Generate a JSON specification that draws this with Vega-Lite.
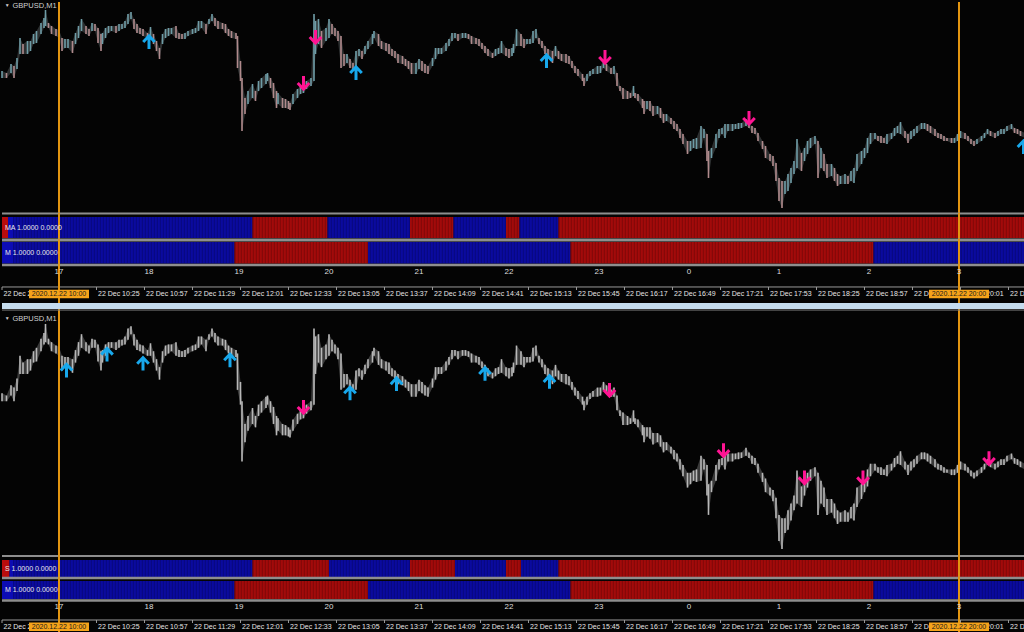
{
"$schema": "https://vega.github.io/schema/vega-lite/v6.json",
"background": "#040404",
"padding": 0,
"spacing": 0,
"bounds": "flush",
"config": {"view": {"stroke": null}, "text": {"font": "Liberation Sans"}},
"datasets": {
"price": [
{"min":-38,"hi":1.3430,"lo":1.3423},{"min":-35,"hi":1.3428,"lo":1.3423},{"min":-32,"hi":1.3437,"lo":1.3428},{"min":-30,"hi":1.3435,"lo":1.3423},{"min":-28,"hi":1.3443,"lo":1.3432},{"min":-26,"hi":1.3463,"lo":1.3447},{"min":-24,"hi":1.3457,"lo":1.3447},{"min":-21,"hi":1.3460,"lo":1.3447},{"min":-19,"hi":1.3460,"lo":1.3450},{"min":-17,"hi":1.3467,"lo":1.3457},{"min":-15,"hi":1.3470,"lo":1.3458},{"min":-12,"hi":1.3478,"lo":1.3467},{"min":-10,"hi":1.3483,"lo":1.3473},{"min":-9,"hi":1.3491,"lo":1.3475},{"min":-7,"hi":1.3478,"lo":1.3473},{"min":-5,"hi":1.3475,"lo":1.3467},{"min":-2,"hi":1.3472,"lo":1.3465},{"min":0,"hi":1.3471,"lo":1.3463},{"min":2,"hi":1.3463,"lo":1.3450},{"min":4,"hi":1.3462,"lo":1.3453},{"min":6,"hi":1.3462,"lo":1.3453},{"min":9,"hi":1.3460,"lo":1.3448},{"min":11,"hi":1.3468,"lo":1.3457},{"min":13,"hi":1.3475,"lo":1.3463},{"min":15,"hi":1.3482,"lo":1.3470},{"min":18,"hi":1.3475,"lo":1.3467},{"min":20,"hi":1.3472,"lo":1.3465},{"min":22,"hi":1.3478,"lo":1.3470},{"min":24,"hi":1.3477,"lo":1.3470},{"min":26,"hi":1.3473,"lo":1.3458},{"min":28,"hi":1.3467,"lo":1.3450},{"min":29,"hi":1.3468,"lo":1.3457},{"min":31,"hi":1.3473,"lo":1.3463},{"min":33,"hi":1.3475,"lo":1.3468},{"min":35,"hi":1.3475,"lo":1.3470},{"min":38,"hi":1.3475,"lo":1.3468},{"min":40,"hi":1.3477,"lo":1.3470},{"min":42,"hi":1.3477,"lo":1.3472},{"min":44,"hi":1.3480,"lo":1.3473},{"min":46,"hi":1.3487,"lo":1.3477},{"min":48,"hi":1.3489,"lo":1.3482},{"min":50,"hi":1.3482,"lo":1.3472},{"min":52,"hi":1.3477,"lo":1.3468},{"min":54,"hi":1.3473,"lo":1.3467},{"min":56,"hi":1.3472,"lo":1.3465},{"min":59,"hi":1.3468,"lo":1.3463},{"min":61,"hi":1.3474,"lo":1.3463},{"min":63,"hi":1.3467,"lo":1.3457},{"min":65,"hi":1.3460,"lo":1.3450},{"min":67,"hi":1.3453,"lo":1.3442},{"min":69,"hi":1.3467,"lo":1.3457},{"min":71,"hi":1.3472,"lo":1.3463},{"min":73,"hi":1.3473,"lo":1.3465},{"min":75,"hi":1.3473,"lo":1.3467},{"min":78,"hi":1.3475,"lo":1.3463},{"min":80,"hi":1.3468,"lo":1.3462},{"min":82,"hi":1.3467,"lo":1.3462},{"min":84,"hi":1.3468,"lo":1.3462},{"min":86,"hi":1.3470,"lo":1.3465},{"min":89,"hi":1.3472,"lo":1.3467},{"min":91,"hi":1.3473,"lo":1.3468},{"min":93,"hi":1.3480,"lo":1.3470},{"min":95,"hi":1.3480,"lo":1.3473},{"min":98,"hi":1.3477,"lo":1.3467},{"min":100,"hi":1.3482,"lo":1.3477},{"min":102,"hi":1.3487,"lo":1.3480},{"min":104,"hi":1.3483,"lo":1.3475},{"min":106,"hi":1.3480,"lo":1.3472},{"min":109,"hi":1.3478,"lo":1.3472},{"min":111,"hi":1.3477,"lo":1.3468},{"min":113,"hi":1.3472,"lo":1.3465},{"min":115,"hi":1.3470,"lo":1.3463},{"min":118,"hi":1.3468,"lo":1.3462},{"min":119,"hi":1.3465,"lo":1.3433},{"min":121,"hi":1.3440,"lo":1.3420},{"min":122,"hi":1.3423,"lo":1.3370},{"min":124,"hi":1.3403,"lo":1.3387},{"min":126,"hi":1.3410,"lo":1.3397},{"min":129,"hi":1.3417,"lo":1.3403},{"min":131,"hi":1.3410,"lo":1.3400},{"min":133,"hi":1.3420,"lo":1.3410},{"min":135,"hi":1.3423,"lo":1.3413},{"min":138,"hi":1.3427,"lo":1.3417},{"min":139,"hi":1.3428,"lo":1.3420},{"min":141,"hi":1.3423,"lo":1.3413},{"min":143,"hi":1.3418,"lo":1.3403},{"min":145,"hi":1.3410,"lo":1.3393},{"min":146,"hi":1.3408,"lo":1.3397},{"min":149,"hi":1.3403,"lo":1.3393},{"min":151,"hi":1.3402,"lo":1.3393},{"min":153,"hi":1.3400,"lo":1.3392},{"min":154,"hi":1.3398,"lo":1.3391},{"min":156,"hi":1.3407,"lo":1.3397},{"min":159,"hi":1.3412,"lo":1.3403},{"min":161,"hi":1.3415,"lo":1.3407},{"min":163,"hi":1.3418,"lo":1.3408},{"min":165,"hi":1.3420,"lo":1.3412},{"min":168,"hi":1.3423,"lo":1.3415},{"min":170,"hi":1.3487,"lo":1.3420},{"min":171,"hi":1.3480,"lo":1.3447},{"min":173,"hi":1.3482,"lo":1.3457},{"min":175,"hi":1.3470,"lo":1.3453},{"min":178,"hi":1.3473,"lo":1.3460},{"min":180,"hi":1.3482,"lo":1.3463},{"min":182,"hi":1.3477,"lo":1.3467},{"min":184,"hi":1.3473,"lo":1.3465},{"min":186,"hi":1.3470,"lo":1.3460},{"min":188,"hi":1.3465,"lo":1.3433},{"min":190,"hi":1.3447,"lo":1.3435},{"min":192,"hi":1.3447,"lo":1.3438},{"min":194,"hi":1.3442,"lo":1.3433},{"min":196,"hi":1.3438,"lo":1.3432},{"min":198,"hi":1.3450,"lo":1.3433},{"min":200,"hi":1.3452,"lo":1.3445},{"min":202,"hi":1.3450,"lo":1.3442},{"min":204,"hi":1.3455,"lo":1.3447},{"min":206,"hi":1.3460,"lo":1.3452},{"min":209,"hi":1.3467,"lo":1.3457},{"min":210,"hi":1.3470,"lo":1.3463},{"min":213,"hi":1.3467,"lo":1.3455},{"min":215,"hi":1.3460,"lo":1.3452},{"min":218,"hi":1.3458,"lo":1.3450},{"min":220,"hi":1.3457,"lo":1.3447},{"min":222,"hi":1.3452,"lo":1.3445},{"min":224,"hi":1.3450,"lo":1.3443},{"min":226,"hi":1.3447,"lo":1.3438},{"min":229,"hi":1.3445,"lo":1.3437},{"min":231,"hi":1.3442,"lo":1.3435},{"min":233,"hi":1.3440,"lo":1.3432},{"min":235,"hi":1.3438,"lo":1.3427},{"min":238,"hi":1.3438,"lo":1.3427},{"min":240,"hi":1.3442,"lo":1.3432},{"min":242,"hi":1.3440,"lo":1.3430},{"min":244,"hi":1.3437,"lo":1.3428},{"min":246,"hi":1.3435,"lo":1.3427},{"min":249,"hi":1.3443,"lo":1.3435},{"min":251,"hi":1.3453,"lo":1.3442},{"min":253,"hi":1.3453,"lo":1.3447},{"min":255,"hi":1.3453,"lo":1.3447},{"min":258,"hi":1.3458,"lo":1.3450},{"min":260,"hi":1.3462,"lo":1.3455},{"min":262,"hi":1.3468,"lo":1.3460},{"min":264,"hi":1.3468,"lo":1.3463},{"min":266,"hi":1.3467,"lo":1.3460},{"min":269,"hi":1.3468,"lo":1.3463},{"min":271,"hi":1.3468,"lo":1.3463},{"min":273,"hi":1.3467,"lo":1.3462},{"min":275,"hi":1.3465,"lo":1.3457},{"min":278,"hi":1.3463,"lo":1.3457},{"min":280,"hi":1.3462,"lo":1.3455},{"min":282,"hi":1.3458,"lo":1.3452},{"min":284,"hi":1.3455,"lo":1.3448},{"min":286,"hi":1.3452,"lo":1.3445},{"min":289,"hi":1.3448,"lo":1.3443},{"min":291,"hi":1.3452,"lo":1.3445},{"min":293,"hi":1.3453,"lo":1.3447},{"min":295,"hi":1.3460,"lo":1.3448},{"min":298,"hi":1.3453,"lo":1.3445},{"min":300,"hi":1.3452,"lo":1.3443},{"min":302,"hi":1.3453,"lo":1.3445},{"min":303,"hi":1.3457,"lo":1.3448},{"min":305,"hi":1.3472,"lo":1.3455},{"min":308,"hi":1.3467,"lo":1.3455},{"min":310,"hi":1.3462,"lo":1.3453},{"min":312,"hi":1.3462,"lo":1.3457},{"min":314,"hi":1.3462,"lo":1.3457},{"min":316,"hi":1.3470,"lo":1.3458},{"min":318,"hi":1.3472,"lo":1.3463},{"min":320,"hi":1.3463,"lo":1.3457},{"min":322,"hi":1.3460,"lo":1.3453},{"min":324,"hi":1.3455,"lo":1.3447},{"min":326,"hi":1.3452,"lo":1.3443},{"min":329,"hi":1.3450,"lo":1.3438},{"min":331,"hi":1.3455,"lo":1.3445},{"min":333,"hi":1.3450,"lo":1.3442},{"min":335,"hi":1.3447,"lo":1.3440},{"min":338,"hi":1.3447,"lo":1.3438},{"min":340,"hi":1.3445,"lo":1.3437},{"min":342,"hi":1.3440,"lo":1.3433},{"min":344,"hi":1.3435,"lo":1.3428},{"min":346,"hi":1.3432,"lo":1.3425},{"min":349,"hi":1.3427,"lo":1.3420},{"min":350,"hi":1.3423,"lo":1.3415},{"min":352,"hi":1.3427,"lo":1.3420},{"min":354,"hi":1.3430,"lo":1.3425},{"min":356,"hi":1.3432,"lo":1.3427},{"min":359,"hi":1.3435,"lo":1.3427},{"min":361,"hi":1.3435,"lo":1.3428},{"min":363,"hi":1.3440,"lo":1.3433},{"min":365,"hi":1.3437,"lo":1.3430},{"min":368,"hi":1.3433,"lo":1.3427},{"min":370,"hi":1.3435,"lo":1.3427},{"min":372,"hi":1.3428,"lo":1.3415},{"min":374,"hi":1.3415,"lo":1.3410},{"min":376,"hi":1.3413,"lo":1.3402},{"min":379,"hi":1.3410,"lo":1.3402},{"min":381,"hi":1.3408,"lo":1.3403},{"min":383,"hi":1.3415,"lo":1.3405},{"min":384,"hi":1.3408,"lo":1.3403},{"min":386,"hi":1.3407,"lo":1.3400},{"min":389,"hi":1.3402,"lo":1.3393},{"min":390,"hi":1.3400,"lo":1.3387},{"min":392,"hi":1.3400,"lo":1.3392},{"min":394,"hi":1.3400,"lo":1.3390},{"min":396,"hi":1.3395,"lo":1.3385},{"min":399,"hi":1.3395,"lo":1.3387},{"min":401,"hi":1.3393,"lo":1.3383},{"min":403,"hi":1.3387,"lo":1.3378},{"min":405,"hi":1.3387,"lo":1.3380},{"min":408,"hi":1.3383,"lo":1.3377},{"min":410,"hi":1.3380,"lo":1.3372},{"min":412,"hi":1.3377,"lo":1.3370},{"min":414,"hi":1.3372,"lo":1.3363},{"min":416,"hi":1.3367,"lo":1.3357},{"min":419,"hi":1.3360,"lo":1.3347},{"min":421,"hi":1.3360,"lo":1.3350},{"min":423,"hi":1.3362,"lo":1.3353},{"min":425,"hi":1.3363,"lo":1.3352},{"min":428,"hi":1.3375,"lo":1.3353},{"min":430,"hi":1.3372,"lo":1.3363},{"min":432,"hi":1.3367,"lo":1.3340},{"min":433,"hi":1.3350,"lo":1.3323},{"min":435,"hi":1.3353,"lo":1.3343},{"min":438,"hi":1.3367,"lo":1.3353},{"min":440,"hi":1.3372,"lo":1.3363},{"min":442,"hi":1.3373,"lo":1.3367},{"min":444,"hi":1.3377,"lo":1.3363},{"min":446,"hi":1.3377,"lo":1.3370},{"min":449,"hi":1.3377,"lo":1.3370},{"min":451,"hi":1.3377,"lo":1.3372},{"min":453,"hi":1.3378,"lo":1.3372},{"min":455,"hi":1.3378,"lo":1.3373},{"min":458,"hi":1.3382,"lo":1.3375},{"min":460,"hi":1.3378,"lo":1.3373},{"min":462,"hi":1.3375,"lo":1.3368},{"min":464,"hi":1.3373,"lo":1.3367},{"min":466,"hi":1.3368,"lo":1.3360},{"min":469,"hi":1.3360,"lo":1.3352},{"min":471,"hi":1.3355,"lo":1.3343},{"min":474,"hi":1.3347,"lo":1.3340},{"min":476,"hi":1.3345,"lo":1.3335},{"min":478,"hi":1.3338,"lo":1.3320},{"min":480,"hi":1.3323,"lo":1.3300},{"min":482,"hi":1.3320,"lo":1.3293},{"min":484,"hi":1.3320,"lo":1.3307},{"min":486,"hi":1.3327,"lo":1.3310},{"min":488,"hi":1.3333,"lo":1.3318},{"min":490,"hi":1.3340,"lo":1.3327},{"min":492,"hi":1.3362,"lo":1.3333},{"min":495,"hi":1.3348,"lo":1.3330},{"min":497,"hi":1.3353,"lo":1.3340},{"min":499,"hi":1.3360,"lo":1.3347},{"min":501,"hi":1.3363,"lo":1.3353},{"min":504,"hi":1.3365,"lo":1.3357},{"min":506,"hi":1.3360,"lo":1.3323},{"min":508,"hi":1.3353,"lo":1.3333},{"min":510,"hi":1.3347,"lo":1.3330},{"min":512,"hi":1.3337,"lo":1.3323},{"min":515,"hi":1.3337,"lo":1.3325},{"min":517,"hi":1.3333,"lo":1.3320},{"min":519,"hi":1.3327,"lo":1.3315},{"min":521,"hi":1.3325,"lo":1.3317},{"min":524,"hi":1.3327,"lo":1.3317},{"min":526,"hi":1.3325,"lo":1.3317},{"min":528,"hi":1.3330,"lo":1.3320},{"min":530,"hi":1.3333,"lo":1.3318},{"min":532,"hi":1.3347,"lo":1.3330},{"min":535,"hi":1.3350,"lo":1.3337},{"min":537,"hi":1.3353,"lo":1.3343},{"min":539,"hi":1.3363,"lo":1.3348},{"min":541,"hi":1.3368,"lo":1.3357},{"min":544,"hi":1.3368,"lo":1.3362},{"min":546,"hi":1.3365,"lo":1.3360},{"min":548,"hi":1.3365,"lo":1.3358},{"min":550,"hi":1.3363,"lo":1.3358},{"min":552,"hi":1.3367,"lo":1.3357},{"min":555,"hi":1.3368,"lo":1.3362},{"min":557,"hi":1.3373,"lo":1.3365},{"min":559,"hi":1.3375,"lo":1.3368},{"min":561,"hi":1.3379,"lo":1.3367},{"min":564,"hi":1.3370,"lo":1.3363},{"min":566,"hi":1.3367,"lo":1.3358},{"min":568,"hi":1.3370,"lo":1.3362},{"min":570,"hi":1.3372,"lo":1.3365},{"min":572,"hi":1.3375,"lo":1.3368},{"min":575,"hi":1.3378,"lo":1.3372},{"min":577,"hi":1.3378,"lo":1.3372},{"min":579,"hi":1.3377,"lo":1.3370},{"min":581,"hi":1.3375,"lo":1.3368},{"min":584,"hi":1.3372,"lo":1.3365},{"min":586,"hi":1.3368,"lo":1.3363},{"min":588,"hi":1.3367,"lo":1.3362},{"min":590,"hi":1.3365,"lo":1.3360},{"min":592,"hi":1.3363,"lo":1.3360},{"min":595,"hi":1.3363,"lo":1.3358},{"min":597,"hi":1.3363,"lo":1.3358},{"min":599,"hi":1.3367,"lo":1.3360},{"min":601,"hi":1.3370,"lo":1.3363},{"min":604,"hi":1.3368,"lo":1.3362},{"min":606,"hi":1.3365,"lo":1.3360},{"min":608,"hi":1.3362,"lo":1.3357},{"min":610,"hi":1.3360,"lo":1.3355},{"min":612,"hi":1.3362,"lo":1.3357},{"min":615,"hi":1.3365,"lo":1.3360},{"min":617,"hi":1.3368,"lo":1.3363},{"min":619,"hi":1.3372,"lo":1.3367},{"min":621,"hi":1.3370,"lo":1.3365},{"min":624,"hi":1.3368,"lo":1.3363},{"min":626,"hi":1.3370,"lo":1.3365},{"min":628,"hi":1.3372,"lo":1.3367},{"min":630,"hi":1.3372,"lo":1.3367},{"min":632,"hi":1.3375,"lo":1.3370},{"min":635,"hi":1.3377,"lo":1.3372},{"min":637,"hi":1.3373,"lo":1.3368},{"min":639,"hi":1.3372,"lo":1.3367},{"min":641,"hi":1.3370,"lo":1.3365},{"min":644,"hi":1.3368,"lo":1.3363}
],
"arrTop": [
{"min":60,"price":1.3459,"dir":"up"},{"min":171,"price":1.3464,"dir":"down"},{"min":163,"price":1.3418,"dir":"down"},{"min":198,"price":1.3428,"dir":"up"},{"min":325,"price":1.3440,"dir":"up"},{"min":364,"price":1.3444,"dir":"down"},{"min":460,"price":1.3383,"dir":"down"},{"min":643,"price":1.3354,"dir":"up"}
],
"arrBot": [
{"min":5,"price":1.3450,"dir":"up"},{"min":32,"price":1.3464,"dir":"up"},{"min":56,"price":1.3456,"dir":"up"},{"min":114,"price":1.3459,"dir":"up"},{"min":163,"price":1.3418,"dir":"down"},{"min":194,"price":1.3430,"dir":"up"},{"min":225,"price":1.3438,"dir":"up"},{"min":284,"price":1.3447,"dir":"up"},{"min":327,"price":1.3440,"dir":"up"},{"min":367,"price":1.3433,"dir":"down"},{"min":443,"price":1.3380,"dir":"down"},{"min":497,"price":1.3356,"dir":"down"},{"min":536,"price":1.3356,"dir":"down"},{"min":620,"price":1.3373,"dir":"down"}
],
"stripMA": [
{"from":-38,"to":-34,"state":"down"},{"from":-34,"to":129,"state":"up"},{"from":129,"to":179,"state":"down"},{"from":179,"to":234,"state":"up"},{"from":234,"to":263,"state":"down"},{"from":263,"to":298,"state":"up"},{"from":298,"to":307,"state":"down"},{"from":307,"to":333,"state":"up"},{"from":333,"to":645,"state":"down"}
],
"stripS": [
{"from":-38,"to":-33,"state":"down"},{"from":-33,"to":129,"state":"up"},{"from":129,"to":180,"state":"down"},{"from":180,"to":234,"state":"up"},{"from":234,"to":264,"state":"down"},{"from":264,"to":298,"state":"up"},{"from":298,"to":308,"state":"down"},{"from":308,"to":333,"state":"up"},{"from":333,"to":645,"state":"down"}
],
"stripM": [
{"from":-38,"to":117,"state":"up"},{"from":117,"to":206,"state":"down"},{"from":206,"to":341,"state":"up"},{"from":341,"to":543,"state":"down"},{"from":543,"to":645,"state":"up"}
],
"vlines": [{"min":0},{"min":600}],
"hours": [
{"min":0,"h":"17"},{"min":60,"h":"18"},{"min":120,"h":"19"},{"min":180,"h":"20"},{"min":240,"h":"21"},{"min":300,"h":"22"},{"min":360,"h":"23"},{"min":420,"h":"0"},{"min":480,"h":"1"},{"min":540,"h":"2"},{"min":600,"h":"3"}
],
"times": [
{"min":-38,"t":"22 Dec 2020"},{"min":25,"t":"22 Dec 10:25"},{"min":57,"t":"22 Dec 10:57"},{"min":89,"t":"22 Dec 11:29"},{"min":121,"t":"22 Dec 12:01"},{"min":153,"t":"22 Dec 12:33"},{"min":185,"t":"22 Dec 13:05"},{"min":217,"t":"22 Dec 13:37"},{"min":249,"t":"22 Dec 14:09"},{"min":281,"t":"22 Dec 14:41"},{"min":313,"t":"22 Dec 15:13"},{"min":345,"t":"22 Dec 15:45"},{"min":377,"t":"22 Dec 16:17"},{"min":409,"t":"22 Dec 16:49"},{"min":441,"t":"22 Dec 17:21"},{"min":473,"t":"22 Dec 17:53"},{"min":505,"t":"22 Dec 18:25"},{"min":537,"t":"22 Dec 18:57"},{"min":569,"t":"22 Dec 19:29"},{"min":601,"t":"22 Dec 20:01"},{"min":633,"t":"22 Dec 20:33"}
],
"olabels": [{"min":0,"t":"2020.12.22 10:00"},{"min":600,"t":"2020.12.22 20:00"}]
},
"vconcat": [
{
"width": 1024, "height": 212,
"layer": [
{"data": {"name": "price"},
 "mark": {"type": "area", "opacity": 0.3, "color": "#8c9598"},
 "encoding": {
  "x": {"field": "min", "type": "quantitative", "scale": {"domain": [-38, 644.67], "nice": false, "zero": false}, "axis": null},
  "y": {"field": "hi", "type": "quantitative", "scale": {"domain": [1.3288, 1.35], "nice": false, "zero": false}, "axis": null},
  "y2": {"field": "lo"}
 }},
{"data": {"name": "price"},
 "transform": [{"window": [{"op": "lag", "field": "hi", "as": "phi"}, {"op": "lag", "field": "lo", "as": "plo"}], "sort": [{"field": "min"}]}],
 "mark": {"type": "rule", "strokeWidth": 1.6},
 "encoding": {
  "x": {"field": "min", "type": "quantitative"},
  "y": {"field": "hi", "type": "quantitative"},
  "y2": {"field": "lo"},
  "color": {"condition": {"test": "datum.hi + datum.lo >= datum.phi + datum.plo", "value": "#6e9ca6"}, "value": "#b08a8c"}
 }},
{"data": {"name": "vlines"}, "mark": {"type": "rule", "color": "#e39510", "strokeWidth": 2},
 "encoding": {"x": {"field": "min", "type": "quantitative"}, "y": {"datum": 1.3499, "type": "quantitative"}, "y2": {"datum": 1.3288}}},
{"data": {"name": "arrTop"}, "mark": {"type": "point", "filled": false, "strokeWidth": 3, "size": 210, "opacity": 1},
 "encoding": {
  "x": {"field": "min", "type": "quantitative"},
  "y": {"field": "price", "type": "quantitative"},
  "color": {"condition": {"test": "datum.dir === 'up'", "value": "#18a8ec"}, "value": "#ff1493"},
  "shape": {"condition": {"test": "datum.dir === 'up'", "value": "M-0.8,0L0,-0.85L0.8,0M0,-0.85L0,0.95"}, "value": "M-0.8,0L0,0.85L0.8,0M0,0.85L0,-0.95"}
 }},
{"data": {"values": [{}]}, "mark": {"type": "text", "text": "▼", "fontSize": 5, "color": "#d0d0d0", "align": "center", "baseline": "middle"},
 "encoding": {"x": {"datum": -34.5, "type": "quantitative"}, "y": {"datum": 1.3496, "type": "quantitative"}}},
{"data": {"values": [{}]}, "mark": {"type": "text", "text": "GBPUSD,M1", "fontSize": 7.5, "color": "#d0d0d0", "align": "left", "baseline": "middle"},
 "encoding": {"x": {"datum": -31, "type": "quantitative"}, "y": {"datum": 1.3495, "type": "quantitative"}}}
]
},
{
"width": 1024, "height": 26,
"layer": [
{"data": {"values": [{}]}, "mark": {"type": "rule", "color": "#8e8e8e", "strokeWidth": 2},
 "encoding": {"y": {"datum": 0.98, "type": "quantitative", "scale": {"domain": [0, 1], "nice": false, "zero": false}, "axis": null}}},
{"data": {"name": "stripMA"}, "mark": {"type": "rect"},
 "encoding": {
  "x": {"field": "from", "type": "quantitative", "scale": {"domain": [-38, 644.67], "nice": false, "zero": false}, "axis": null},
  "x2": {"field": "to"},
  "y": {"datum": 0.038, "type": "quantitative"}, "y2": {"datum": 0.846},
  "color": {"condition": {"test": "datum.state === 'up'", "value": "#0c0cb4"}, "value": "#b80c0c"}
 }},
{"data": {"values": [{}]}, "mark": {"type": "rule", "color": "#000000", "strokeWidth": 21, "strokeDash": [0.6, 0.9], "opacity": 0.45},
 "encoding": {"x": {"datum": -30.5, "type": "quantitative"}, "x2": {"datum": 644.67}, "y": {"datum": 0.442, "type": "quantitative"}}},
{"data": {"name": "vlines"}, "mark": {"type": "rule", "color": "#e39510", "strokeWidth": 2},
 "encoding": {"x": {"field": "min", "type": "quantitative"}}},
{"data": {"values": [{}]}, "mark": {"type": "text", "text": "MA 1.0000 0.0000", "fontSize": 7, "color": "#e8e8e8", "align": "left", "baseline": "middle"},
 "encoding": {"x": {"datum": -36, "type": "quantitative"}, "y": {"datum": 0.442, "type": "quantitative"}}}
]
},
{
"width": 1024, "height": 25,
"layer": [
{"data": {"values": [{}]}, "mark": {"type": "rule", "color": "#8e8e8e", "strokeWidth": 3},
 "encoding": {"y": {"datum": 0.96, "type": "quantitative", "scale": {"domain": [0, 1], "nice": false, "zero": false}, "axis": null}}},
{"data": {"name": "stripM"}, "mark": {"type": "rect"},
 "encoding": {
  "x": {"field": "from", "type": "quantitative", "scale": {"domain": [-38, 644.67], "nice": false, "zero": false}, "axis": null},
  "x2": {"field": "to"},
  "y": {"datum": 0.02, "type": "quantitative"}, "y2": {"datum": 0.88},
  "color": {"condition": {"test": "datum.state === 'up'", "value": "#0c0cb4"}, "value": "#b80c0c"}
 }},
{"data": {"values": [{}]}, "mark": {"type": "rule", "color": "#000000", "strokeWidth": 21.5, "strokeDash": [0.6, 0.9], "opacity": 0.45},
 "encoding": {"x": {"datum": -30.5, "type": "quantitative"}, "x2": {"datum": 644.67}, "y": {"datum": 0.45, "type": "quantitative"}}},
{"data": {"name": "vlines"}, "mark": {"type": "rule", "color": "#e39510", "strokeWidth": 2},
 "encoding": {"x": {"field": "min", "type": "quantitative"}}},
{"data": {"values": [{}]}, "mark": {"type": "text", "text": "M 1.0000 0.0000", "fontSize": 7, "color": "#e8e8e8", "align": "left", "baseline": "middle"},
 "encoding": {"x": {"datum": -36, "type": "quantitative"}, "y": {"datum": 0.45, "type": "quantitative"}}}
]
},
{
"width": 1024, "height": 47,
"layer": [
{"data": {"values": [{}]}, "mark": {"type": "rule", "color": "#8e8e8e", "strokeWidth": 2.5},
 "encoding": {"y": {"datum": 0.98, "type": "quantitative", "scale": {"domain": [0, 1], "nice": false, "zero": false}, "axis": null}}},
{"data": {"values": [{}]}, "mark": {"type": "rule", "color": "#9a9a9a", "strokeWidth": 1},
 "encoding": {"y": {"datum": 0.511, "type": "quantitative"}}},
{"data": {"name": "vlines"}, "mark": {"type": "rule", "color": "#e39510", "strokeWidth": 2},
 "encoding": {"x": {"field": "min", "type": "quantitative", "scale": {"domain": [-38, 644.67], "nice": false, "zero": false}, "axis": null}}},
{"data": {"name": "hours"}, "mark": {"type": "text", "fontSize": 8, "color": "#dcdcdc", "align": "center", "baseline": "middle"},
 "encoding": {"x": {"field": "min", "type": "quantitative"}, "y": {"datum": 0.83, "type": "quantitative"}, "text": {"field": "h"}}},
{"data": {"name": "times"}, "mark": {"type": "rule", "color": "#9a9a9a", "strokeWidth": 1},
 "encoding": {"x": {"field": "min", "type": "quantitative"}, "y": {"datum": 0.511, "type": "quantitative"}, "y2": {"datum": 0.447}}},
{"data": {"name": "times"}, "mark": {"type": "text", "fontSize": 7, "color": "#e6e6e6", "align": "left", "baseline": "middle", "dx": 1.5},
 "encoding": {"x": {"field": "min", "type": "quantitative"}, "y": {"datum": 0.362, "type": "quantitative"}, "text": {"field": "t"}}},
{"data": {"name": "olabels"}, "mark": {"type": "point", "filled": true, "size": 3600, "opacity": 1, "color": "#f5a31a", "shape": "M-1,-0.14L1,-0.14L1,0.14L-1,0.14Z"},
 "encoding": {"x": {"field": "min", "type": "quantitative"}, "y": {"datum": 0.362, "type": "quantitative"}}},
{"data": {"name": "olabels"}, "mark": {"type": "text", "fontSize": 7, "color": "#1a1a1a", "align": "center", "baseline": "middle"},
 "encoding": {"x": {"field": "min", "type": "quantitative"}, "y": {"datum": 0.362, "type": "quantitative"}, "text": {"field": "t"}}},
{"data": {"values": [{}]}, "mark": {"type": "rect", "color": "#c5dcee"},
 "encoding": {"y": {"datum": 0.17, "type": "quantitative"}, "y2": {"datum": 0.043}}},
{"data": {"values": [{}]}, "mark": {"type": "rule", "color": "#7a7a7a", "strokeWidth": 1},
 "encoding": {"y": {"datum": 0.02, "type": "quantitative"}}}
]
},
{
"width": 1024, "height": 244,
"layer": [
{"data": {"name": "price"},
 "mark": {"type": "area", "opacity": 0.3, "color": "#b8b8b8"},
 "encoding": {
  "x": {"field": "min", "type": "quantitative", "scale": {"domain": [-38, 644.67], "nice": false, "zero": false}, "axis": null},
  "y": {"field": "hi", "type": "quantitative", "scale": {"domain": [1.32877, 1.35024], "nice": false, "zero": false}, "axis": null},
  "y2": {"field": "lo"}
 }},
{"data": {"name": "price"},
 "mark": {"type": "rule", "strokeWidth": 1.6, "color": "#b8b8b8"},
 "encoding": {
  "x": {"field": "min", "type": "quantitative"},
  "y": {"field": "hi", "type": "quantitative"},
  "y2": {"field": "lo"}
 }},
{"data": {"name": "vlines"}, "mark": {"type": "rule", "color": "#e39510", "strokeWidth": 2},
 "encoding": {"x": {"field": "min", "type": "quantitative"}}},
{"data": {"name": "arrBot"}, "mark": {"type": "point", "filled": false, "strokeWidth": 3, "size": 210, "opacity": 1},
 "encoding": {
  "x": {"field": "min", "type": "quantitative"},
  "y": {"field": "price", "type": "quantitative"},
  "color": {"condition": {"test": "datum.dir === 'up'", "value": "#18a8ec"}, "value": "#ff1493"},
  "shape": {"condition": {"test": "datum.dir === 'up'", "value": "M-0.8,0L0,-0.85L0.8,0M0,-0.85L0,0.95"}, "value": "M-0.8,0L0,0.85L0.8,0M0,0.85L0,-0.95"}
 }},
{"data": {"values": [{}]}, "mark": {"type": "text", "text": "▼", "fontSize": 5, "color": "#d0d0d0", "align": "center", "baseline": "middle"},
 "encoding": {"x": {"datum": -34.5, "type": "quantitative"}, "y": {"datum": 1.34965, "type": "quantitative"}}},
{"data": {"values": [{}]}, "mark": {"type": "text", "text": "GBPUSD,M1", "fontSize": 7.5, "color": "#d0d0d0", "align": "left", "baseline": "middle"},
 "encoding": {"x": {"datum": -31, "type": "quantitative"}, "y": {"datum": 1.34955, "type": "quantitative"}}}
]
},
{
"width": 1024, "height": 22,
"layer": [
{"data": {"values": [{}]}, "mark": {"type": "rule", "color": "#8e8e8e", "strokeWidth": 2},
 "encoding": {"y": {"datum": 0.955, "type": "quantitative", "scale": {"domain": [0, 1], "nice": false, "zero": false}, "axis": null}}},
{"data": {"name": "stripS"}, "mark": {"type": "rect"},
 "encoding": {
  "x": {"field": "from", "type": "quantitative", "scale": {"domain": [-38, 644.67], "nice": false, "zero": false}, "axis": null},
  "x2": {"field": "to"},
  "y": {"datum": 0.0, "type": "quantitative"}, "y2": {"datum": 0.773},
  "color": {"condition": {"test": "datum.state === 'up'", "value": "#0c0cb4"}, "value": "#b80c0c"}
 }},
{"data": {"values": [{}]}, "mark": {"type": "rule", "color": "#000000", "strokeWidth": 17, "strokeDash": [0.6, 0.9], "opacity": 0.45},
 "encoding": {"x": {"datum": -30.5, "type": "quantitative"}, "x2": {"datum": 644.67}, "y": {"datum": 0.386, "type": "quantitative"}}},
{"data": {"name": "vlines"}, "mark": {"type": "rule", "color": "#e39510", "strokeWidth": 2},
 "encoding": {"x": {"field": "min", "type": "quantitative"}}},
{"data": {"values": [{}]}, "mark": {"type": "text", "text": "S 1.0000 0.0000", "fontSize": 7, "color": "#e8e8e8", "align": "left", "baseline": "middle"},
 "encoding": {"x": {"datum": -36, "type": "quantitative"}, "y": {"datum": 0.386, "type": "quantitative"}}}
]
},
{
"width": 1024, "height": 22,
"layer": [
{"data": {"values": [{}]}, "mark": {"type": "rule", "color": "#8e8e8e", "strokeWidth": 2.5},
 "encoding": {"y": {"datum": 0.955, "type": "quantitative", "scale": {"domain": [0, 1], "nice": false, "zero": false}, "axis": null}}},
{"data": {"name": "stripM"}, "mark": {"type": "rect"},
 "encoding": {
  "x": {"field": "from", "type": "quantitative", "scale": {"domain": [-38, 644.67], "nice": false, "zero": false}, "axis": null},
  "x2": {"field": "to"},
  "y": {"datum": 0.0, "type": "quantitative"}, "y2": {"datum": 0.818},
  "color": {"condition": {"test": "datum.state === 'up'", "value": "#0c0cb4"}, "value": "#b80c0c"}
 }},
{"data": {"values": [{}]}, "mark": {"type": "rule", "color": "#000000", "strokeWidth": 18, "strokeDash": [0.6, 0.9], "opacity": 0.45},
 "encoding": {"x": {"datum": -30.5, "type": "quantitative"}, "x2": {"datum": 644.67}, "y": {"datum": 0.409, "type": "quantitative"}}},
{"data": {"name": "vlines"}, "mark": {"type": "rule", "color": "#e39510", "strokeWidth": 2},
 "encoding": {"x": {"field": "min", "type": "quantitative"}}},
{"data": {"values": [{}]}, "mark": {"type": "text", "text": "M 1.0000 0.0000", "fontSize": 7, "color": "#e8e8e8", "align": "left", "baseline": "middle"},
 "encoding": {"x": {"datum": -36, "type": "quantitative"}, "y": {"datum": 0.409, "type": "quantitative"}}}
]
},
{
"width": 1024, "height": 34,
"layer": [
{"data": {"values": [{}]}, "mark": {"type": "rule", "color": "#8e8e8e", "strokeWidth": 2.5},
 "encoding": {"y": {"datum": 0.956, "type": "quantitative", "scale": {"domain": [0, 1], "nice": false, "zero": false}, "axis": null}}},
{"data": {"values": [{}]}, "mark": {"type": "rule", "color": "#9a9a9a", "strokeWidth": 1},
 "encoding": {"y": {"datum": 0.382, "type": "quantitative"}}},
{"data": {"name": "vlines"}, "mark": {"type": "rule", "color": "#e39510", "strokeWidth": 2},
 "encoding": {"x": {"field": "min", "type": "quantitative", "scale": {"domain": [-38, 644.67], "nice": false, "zero": false}, "axis": null}}},
{"data": {"name": "hours"}, "mark": {"type": "text", "fontSize": 8, "color": "#dcdcdc", "align": "center", "baseline": "middle"},
 "encoding": {"x": {"field": "min", "type": "quantitative"}, "y": {"datum": 0.765, "type": "quantitative"}, "text": {"field": "h"}}},
{"data": {"name": "times"}, "mark": {"type": "rule", "color": "#9a9a9a", "strokeWidth": 1},
 "encoding": {"x": {"field": "min", "type": "quantitative"}, "y": {"datum": 0.382, "type": "quantitative"}, "y2": {"datum": 0.294}}},
{"data": {"name": "times"}, "mark": {"type": "text", "fontSize": 7, "color": "#e6e6e6", "align": "left", "baseline": "middle", "dx": 1.5},
 "encoding": {"x": {"field": "min", "type": "quantitative"}, "y": {"datum": 0.176, "type": "quantitative"}, "text": {"field": "t"}}},
{"data": {"name": "olabels"}, "mark": {"type": "point", "filled": true, "size": 3600, "opacity": 1, "color": "#f5a31a", "shape": "M-1,-0.14L1,-0.14L1,0.14L-1,0.14Z"},
 "encoding": {"x": {"field": "min", "type": "quantitative"}, "y": {"datum": 0.185, "type": "quantitative"}}},
{"data": {"name": "olabels"}, "mark": {"type": "text", "fontSize": 7, "color": "#1a1a1a", "align": "center", "baseline": "middle"},
 "encoding": {"x": {"field": "min", "type": "quantitative"}, "y": {"datum": 0.176, "type": "quantitative"}, "text": {"field": "t"}}}
]
}
]
}
